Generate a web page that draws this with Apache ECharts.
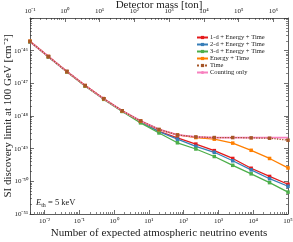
<!DOCTYPE html>
<html><head><meta charset="utf-8">
<script src="https://cdn.jsdelivr.net/npm/echarts@6/dist/echarts.min.js"></script>
<style>html,body{margin:0;padding:0;background:#fff}#c{width:293px;height:242px}</style>
</head><body><div id="c"></div>
<script>
// log10 of expected atmospheric-neutrino events at each simulated exposure point
const logEvents = [-2.417, -1.887, -1.357, -0.828, -0.298, 0.232, 0.762, 1.292, 1.822, 2.351, 2.881, 3.411, 3.941, 4.470, 5.0];
// axis ranges (log10): events on the bottom axis, detector mass [ton] on the top axis
const logEventsRange = [-2.417, 5];
const logMassRange = [-1, 6.417];
const logLimitRange = [-51, -45];

// log10 of the SI discovery limit [cm^-2]
const oneD       = [-45.72, -46.18, -46.64, -47.07, -47.47, -47.84, -48.16, -48.47, -48.67, -48.86, -49.06, -49.30, -49.60, -49.85, -50.09];
const twoD       = [-45.72, -46.19, -46.64, -47.08, -47.48, -47.85, -48.18, -48.48, -48.71, -48.93, -49.11, -49.37, -49.65, -49.92, -50.15];
const threeD     = [-45.73, -46.19, -46.65, -47.09, -47.49, -47.86, -48.21, -48.52, -48.82, -49.01, -49.24, -49.51, -49.77, -50.04, -50.33];
const energyTime = [-45.71, -46.18, -46.64, -47.07, -47.47, -47.84, -48.16, -48.42, -48.58, -48.66, -48.71, -48.83, -49.05, -49.30, -49.59];
const timeOnly   = [-45.72, -46.18, -46.64, -47.07, -47.47, -47.84, -48.15, -48.41, -48.58, -48.64, -48.66, -48.66, -48.67, -48.68, -48.74];
const counting   = [-45.72, -46.18, -46.64, -47.07, -47.47, -47.84, -48.15, -48.41, -48.58, -48.64, -48.66, -48.66, -48.66, -48.66, -48.66];

const seriesNames = ['1-d + Energy + Time', '2-d + Energy + Time', '3-d + Energy + Time', 'Energy + Time', 'Time', 'Counting only'];
const seriesColors = ['#e41a1c', '#377eb8', '#4daf4a', '#ff7f00', '#a65628', '#f781bf'];

// decade exponents for ticks / tick labels
const eventsTickExp = [-2, -1, 0, 1, 2, 3, 4, 5];
const massTickExp = [-1, 0, 1, 2, 3, 4, 5, 6];
const limitTickExp = [-51, -50, -49, -48, -47, -46, -45];
const limitLabelExp = [-51, -50, -49, -48, -47, -46];

function minorTicks(range) {
  const out = [];
  for (let e = Math.floor(range[0]) - 1; e <= Math.ceil(range[1]); e++) {
    for (let m = 2; m <= 9; m++) {
      const v = e + Math.log10(m);
      if (v > range[0] && v < range[1]) out.push(v);
    }
  }
  return out;
}
const SUP = {'-': '\u207B', '0': '\u2070', '1': '\u00B9', '2': '\u00B2', '3': '\u00B3', '4': '\u2074', '5': '\u2075', '6': '\u2076', '7': '\u2077', '8': '\u2078', '9': '\u2079'};
function pow10Label(v) {
  const e = Math.round(v);
  if (Math.abs(v - e) > 1e-6) return '';
  return '10' + String(e).split('').map(c => SUP[c]).join('');
}

const FONT = 'Liberation Serif';
const axisColor = '#333';
const lbl = {fontFamily: FONT, fontSize: 7, color: '#222'};
const nameStyle = {fontFamily: FONT, fontSize: 11, color: '#222'};

// main axis: line + labels (+ name), no ticks
function mainAxis(position, range, extra) {
  return Object.assign({
    type: 'value', position: position, min: range[0], max: range[1],
    nameMoveOverlap: false,
    axisLine: {show: true, onZero: false, lineStyle: {color: axisColor, width: 0.8}},
    axisTick: {show: false}, splitLine: {show: false}, minorTick: {show: false}
  }, extra);
}
// tick-only axis, shifted inward so outward ticks appear inside the frame
function tickAxis(position, range, vals, len) {
  return {
    type: 'value', position: position, min: range[0], max: range[1], offset: -len,
    axisLine: {show: false, onZero: false},
    axisTick: {show: true, inside: false, length: len, lineStyle: {color: axisColor, width: len > 3 ? 0.7 : 0.6}, customValues: vals},
    axisLabel: {show: false}, splitLine: {show: false}, minorTick: {show: false}
  };
}

const chart = echarts.init(document.getElementById('c'), null, {renderer: 'canvas'});
const option = {
  animation: false,
  backgroundColor: '#fff',
  grid: {left: 30, right: 5, top: 18, bottom: 28, containLabel: false, outerBoundsMode: 'none'},
  title: {
    text: '{i|E}{s|th} = 5 keV', left: 36, top: 198, padding: 0,
    textStyle: {
      fontFamily: FONT, fontSize: 8.5, color: '#222', fontWeight: 'normal',
      rich: {
        i: {fontFamily: FONT, fontStyle: 'italic', fontSize: 8.5, color: '#222'},
        s: {fontFamily: FONT, fontSize: 6, color: '#222', padding: [4, 0, 0, 0]}
      }
    }
  },
  legend: {
    orient: 'vertical', left: 196, top: 34, padding: 0,
    itemWidth: 11, itemHeight: 4, itemGap: 0,
    textStyle: {fontFamily: FONT, fontSize: 6.5, lineHeight: 6.8, color: '#222', padding: [0, 0, 0, -3]},
    data: seriesNames
  },
  xAxis: [
    mainAxis('bottom', logEventsRange, {
      name: 'Number of expected atmospheric neutrino events', nameLocation: 'middle', nameGap: 13.5,
      nameTextStyle: nameStyle,
      axisLabel: Object.assign({show: true, margin: 4, formatter: pow10Label, customValues: eventsTickExp}, lbl)
    }),
    tickAxis('bottom', logEventsRange, eventsTickExp, 4),
    tickAxis('bottom', logEventsRange, minorTicks(logEventsRange), 2),
    mainAxis('top', logMassRange, {
      name: 'Detector mass [ton]', nameLocation: 'middle', nameGap: 7,
      nameTextStyle: nameStyle,
      axisLabel: Object.assign({show: true, margin: 3, formatter: pow10Label, customValues: massTickExp}, lbl)
    }),
    tickAxis('top', logMassRange, massTickExp, 4),
    tickAxis('top', logMassRange, minorTicks(logMassRange), 2)
  ],
  yAxis: [
    mainAxis('left', logLimitRange, {
      name: 'SI discovery limit at 100 GeV [cm\u207B\u00B2]', nameLocation: 'middle', nameGap: 16.5,
      nameTextStyle: nameStyle,
      axisLabel: Object.assign({show: true, margin: 2, formatter: pow10Label, customValues: limitLabelExp}, lbl)
    }),
    tickAxis('left', logLimitRange, limitTickExp, 4),
    tickAxis('left', logLimitRange, minorTicks(logLimitRange), 2),
    mainAxis('right', logLimitRange, {axisLabel: {show: false}}),
    tickAxis('right', logLimitRange, limitTickExp, 4),
    tickAxis('right', logLimitRange, minorTicks(logLimitRange), 2)
  ],
  series: [oneD, twoD, threeD, energyTime, timeOnly, counting].map((arr, k) => {
    const isCount = k === 5, isTime = k === 4;
    return {
      name: seriesNames[k], type: 'line', xAxisIndex: 0, yAxisIndex: 0,
      data: logEvents.map((x, i) => [x, arr[i]]),
      color: seriesColors[k],
      symbol: isCount ? 'none' : 'rect', symbolSize: 3.5,
      showSymbol: !isCount,
      lineStyle: {color: seriesColors[k], width: isCount ? 1.8 : 1.3, type: isTime ? 'dotted' : 'solid'},
      itemStyle: {color: seriesColors[k]},
      z: isCount ? 3.5 : (isTime ? 4 : 3),
      silent: true
    };
  })
};
chart.setOption(option);
</script>
</body></html>
